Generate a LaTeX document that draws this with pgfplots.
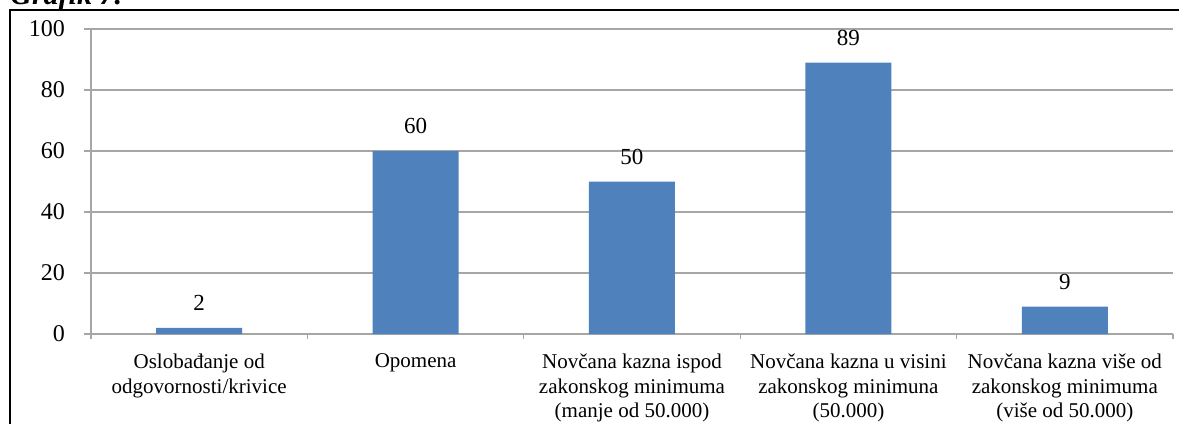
\documentclass[border=0pt]{standalone}
\usepackage{fontspec}
\setmainfont{Liberation Serif}
\usepackage{pgfplots}
\pgfplotsset{compat=1.18}
\definecolor{barblue}{HTML}{4F81BD}
\definecolor{gridgray}{HTML}{A6A6A6}

\begin{document}
\begin{tikzpicture}
    % picture size, 1px = 0.5pt
    \useasboundingbox (-45.5pt,-45pt) rectangle (544pt,167pt);
    \draw[line width=1pt] (-40.5pt,-45pt) -- (-40.5pt,162pt) -- (544pt,162pt);
    \node[anchor=base west, inner sep=0, font=\bfseries\itshape\fontsize{15}{17}\selectfont]
        at (-40.5pt,164.5pt) {Grafik 7.};
    \begin{axis}[
        at = {(0,0)}, anchor = south west,
        scale only axis,
        width = 541pt, height = 152.5pt,
        ybar, bar width = 43pt,
        xmin = -0.5, xmax = 4.5,
        ymin = 0, ymax = 100,
        ytick = {0,20,...,100},
        xtick = {0,1,2,3,4},
        minor xtick = {-0.5,0.5,...,4.5},
        xticklabels = {
            {Oslobađanje od\\odgovornosti/krivice},
            {Opomena},
            {Novčana kazna ispod\\zakonskog minimuma\\(manje od 50.000)},
            {Novčana kazna u visini\\zakonskog minimuna\\(50.000)},
            {Novčana kazna više od\\zakonskog minimuma\\(više od 50.000)}},
        axis x line* = bottom, axis y line* = left,
        axis line style = {draw = gridgray, line width = 0.6pt},
        ymajorgrids = true,
        grid style = {draw = gridgray, line width = 0.6pt},
        tick align = outside,
        major tick length = 3.5pt, minor tick length = 2.5pt,
        major x tick style = {draw = none},
        minor x tick style = {draw = gridgray, line width = 0.6pt},
        ytick style = {draw = gridgray, line width = 0.6pt},
        /pgf/number format/assume math mode = true,
        yticklabel style = {font = \fontsize{12}{14}\selectfont, xshift = -6pt},
        xticklabel style = {font = \fontsize{10.5}{12.3}\selectfont, align = center, yshift = -3pt},
        nodes near coords,
        every node near coord/.append style = {font = \fontsize{11.5}{13}\selectfont, yshift = 5pt},
    ]
        \addplot[fill = barblue, draw = none] coordinates {(0,2) (1,60) (2,50) (3,89) (4,9)};
    \end{axis}
\end{tikzpicture}
\end{document}
